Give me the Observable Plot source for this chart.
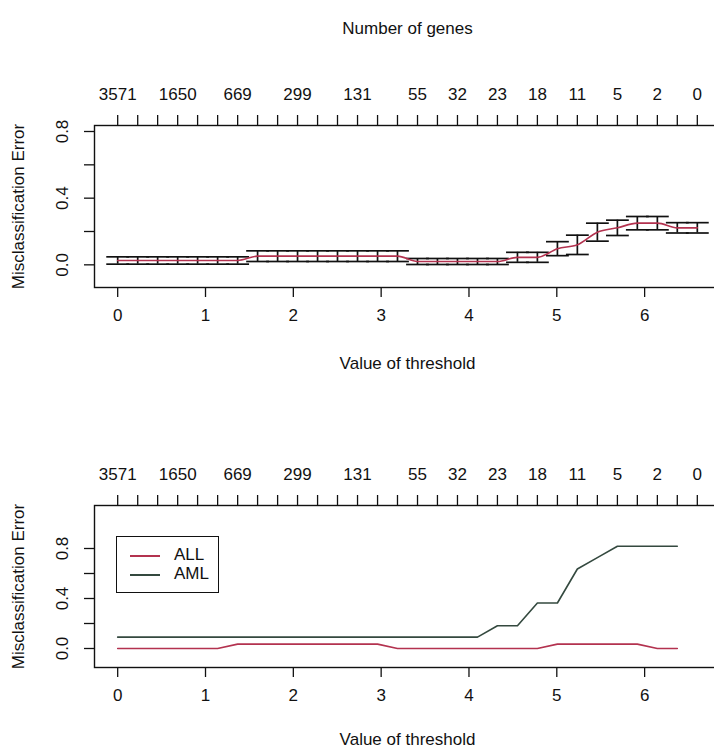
<!DOCTYPE html>
<html>
<head>
<meta charset="utf-8">
<script src="https://cdn.jsdelivr.net/npm/d3@7"></script>
<script src="https://cdn.jsdelivr.net/npm/@observablehq/plot@0.6"></script>
<style>
  html, body { margin: 0; padding: 0; background: #fff; overflow: hidden; width: 714px; height: 753px; }
  #wrap { position: relative; width: 730px; font-family: "Liberation Sans", Arial, sans-serif; }
  #wrap svg { display: block; overflow: visible; }
  .legend { position: absolute; left: 116px; top: 536px; width: 101px; height: 55px;
            border: 1.6px solid #111; background: #fff; font: 17px "Liberation Sans", Arial, sans-serif; color: #111; }
  .legend .row { position: absolute; left: 0; height: 18px; line-height: 18px; width: 100%; }
  .legend .sw { position: absolute; left: 13px; top: 9px; width: 30px; height: 1.6px; }
  .legend .lab { position: absolute; left: 57px; top: 0; white-space: nowrap; }
</style>
</head>
<body>
<div id="wrap">
  <div id="top"></div>
  <div id="bottom"></div>
</div>
<script>
// ---- data ----
const thresholds = [0.000, 0.228, 0.455, 0.683, 0.910, 1.138, 1.366, 1.593, 1.821, 2.048,
                    2.276, 2.503, 2.731, 2.959, 3.186, 3.414, 3.641, 3.869, 4.097, 4.324,
                    4.552, 4.779, 5.007, 5.234, 5.462, 5.690, 5.917, 6.145, 6.372, 6.600];
// number of genes shown on the top axis (blank where the label is not printed)
const geneLabels = ["3571", "", "", "1650", "", "", "669", "", "", "299",
                    "", "", "131", "", "", "55", "", "32", "", "23",
                    "", "18", "", "11", "", "5", "", "2", "", "0"];
// overall CV misclassification error and its standard error (top panel)
const cvError = [0.026, 0.026, 0.026, 0.026, 0.026, 0.026, 0.026, 0.052, 0.052, 0.052,
                 0.052, 0.052, 0.052, 0.052, 0.052, 0.020, 0.020, 0.020, 0.020, 0.020,
                 0.045, 0.045, 0.097, 0.120, 0.196, 0.222, 0.250, 0.250, 0.222, 0.222];
const cvSE    = [0.022, 0.022, 0.022, 0.022, 0.022, 0.022, 0.022, 0.032, 0.032, 0.032,
                 0.032, 0.032, 0.032, 0.032, 0.032, 0.018, 0.018, 0.018, 0.018, 0.018,
                 0.030, 0.030, 0.042, 0.058, 0.054, 0.046, 0.040, 0.040, 0.031, 0.031];
// class-wise error (bottom panel)
const classNames = ["ALL", "AML"];
const errALL = [0.000, 0.000, 0.000, 0.000, 0.000, 0.000, 0.035, 0.035, 0.035, 0.035,
                0.035, 0.035, 0.035, 0.035, 0.000, 0.000, 0.000, 0.000, 0.000, 0.000,
                0.000, 0.000, 0.035, 0.035, 0.035, 0.035, 0.035, 0.000, 0.000];
const errAML = [0.091, 0.091, 0.091, 0.091, 0.091, 0.091, 0.091, 0.091, 0.091, 0.091,
                0.091, 0.091, 0.091, 0.091, 0.091, 0.091, 0.091, 0.091, 0.091, 0.182,
                0.182, 0.364, 0.364, 0.636, 0.727, 0.818, 0.818, 0.818, 0.818];
const xTicks = [0, 1, 2, 3, 4, 5, 6];
const yTicks = [0, 0.2, 0.4, 0.6, 0.8];
const yLabelTicks = [0, 0.4, 0.8];
const mainTitle = "Number of genes";
const xTitle = "Value of threshold";
const yTitle = "Misclassification Error";

// ---- styles ----
const RED = "#b3324f";
const GREEN = "#34493f";
const INK = "#111";
const FONT = "Liberation Sans, Arial, sans-serif";
const FS = 17;
const capHalf = 0.13;

const labelMap = new Map(thresholds.map((t, i) => [t, geneLabels[i]]));

const topData = thresholds.map((t, i) => ({t, err: cvError[i], lo: cvError[i] - cvSE[i], hi: cvError[i] + cvSE[i]}));
const classData = [];
classNames.forEach((c, k) => {
  const vals = k === 0 ? errALL : errAML;
  vals.forEach((v, i) => classData.push({t: thresholds[i], err: v, cls: c}));
});

function frameMarks(withTitle, xTitleOffset) {
  const marks = [
    Plot.frame({stroke: INK, strokeWidth: 1.4}),
    Plot.axisX({anchor: "top", ticks: thresholds, tickFormat: d => labelMap.get(d), tickSize: 11, tickPadding: 15,
                fontSize: FS, stroke: INK, strokeWidth: 1.3, label: null}),
    Plot.axisX({anchor: "bottom", ticks: xTicks, tickFormat: d => String(d), tickSize: 10, tickPadding: 11,
                fontSize: FS, stroke: INK, strokeWidth: 1.3, label: null}),
    Plot.axisY({anchor: "left", ticks: yTicks, tickFormat: () => "", tickSize: 10, stroke: INK, strokeWidth: 1.3, label: null}),
    Plot.text(yLabelTicks, {y: d => d, text: d => d.toFixed(1), frameAnchor: "left", dx: -32, rotate: -90,
                            textAnchor: "middle", lineAnchor: "middle", fontSize: FS, fill: INK}),
    Plot.text([yTitle], {text: d => d, frameAnchor: "left", dx: -76, rotate: -90,
                         textAnchor: "middle", lineAnchor: "middle", fontSize: FS, fill: INK}),
    Plot.text([xTitle], {text: d => d, frameAnchor: "bottom", dy: xTitleOffset, lineAnchor: "middle", fontSize: FS, fill: INK})
  ];
  if (withTitle) marks.push(Plot.text([mainTitle], {text: d => d, frameAnchor: "top", dy: -97, lineAnchor: "middle", fontSize: FS, fill: INK}));
  return marks;
}

const common = {
  width: 730, marginLeft: 94, marginRight: 10, marginTop: 125,
  style: {fontFamily: FONT, fontSize: FS + "px", color: INK, background: "#fff"},
  x: {domain: [-0.264, 6.864]}
};

const topPlot = Plot.plot({
  ...common, height: 380, marginBottom: 93,
  y: {domain: [-0.136, 0.836]},
  marks: [
    ...frameMarks(true, 76),
    Plot.ruleX(topData, {x: "t", y1: "lo", y2: "hi", stroke: INK, strokeWidth: 1.7}),
    Plot.link(topData, {x1: d => d.t - capHalf, x2: d => d.t + capHalf, y1: "hi", y2: "hi", stroke: INK, strokeWidth: 1.7}),
    Plot.link(topData, {x1: d => d.t - capHalf, x2: d => d.t + capHalf, y1: "lo", y2: "lo", stroke: INK, strokeWidth: 1.7}),
    Plot.line(topData, {x: "t", y: "err", stroke: RED, strokeWidth: 1.6, curve: "monotone-x"})
  ]
});

const bottomPlot = Plot.plot({
  ...common, height: 373, marginBottom: 86,
  y: {domain: [-0.152, 1.144]},
  color: {domain: classNames, range: [RED, GREEN]},
  marks: [
    ...frameMarks(false, 72),
    Plot.line(classData, {x: "t", y: "err", z: "cls", stroke: "cls", strokeWidth: 1.6})
  ]
});

document.getElementById("top").appendChild(topPlot);
document.getElementById("bottom").appendChild(bottomPlot);

// legend (R-style box inside the lower panel)
const lg = document.createElement("div");
lg.className = "legend";
classNames.forEach((c, k) => {
  const row = document.createElement("div");
  row.className = "row";
  row.style.top = (9 + k * 19) + "px";
  const sw = document.createElement("div");
  sw.className = "sw";
  sw.style.background = k === 0 ? RED : GREEN;
  const lab = document.createElement("div");
  lab.className = "lab";
  lab.textContent = c;
  row.appendChild(sw); row.appendChild(lab);
  lg.appendChild(row);
});
document.getElementById("wrap").appendChild(lg);
</script>
</body>
</html>
